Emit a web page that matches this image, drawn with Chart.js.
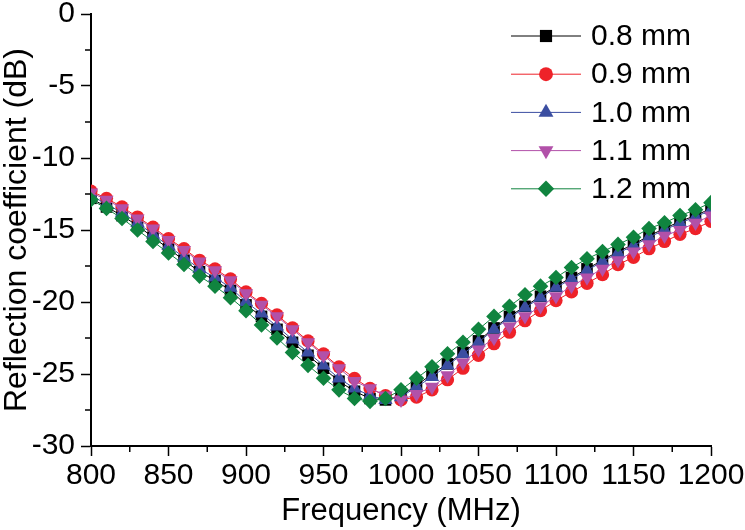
<!DOCTYPE html>
<html>
<head>
<meta charset="utf-8">
<script src="https://cdn.jsdelivr.net/npm/chart.js@4.4.1/dist/chart.umd.min.js"></script>
<style>
  html, body { margin: 0; padding: 0; background: #ffffff; }
  #wrap { width: 745px; height: 530px; }
</style>
</head>
<body>
<div id="wrap"><canvas id="c" width="745" height="530"></canvas></div>
<script>
// ---- data ----
const frequencies = [800, 810, 820, 830, 840, 850, 860, 870, 880, 890, 900, 910, 920, 930, 940, 950, 960, 970, 980, 990, 1000, 1010, 1020, 1030, 1040, 1050, 1060, 1070, 1080, 1090, 1100, 1110, 1120, 1130, 1140, 1150, 1160, 1170, 1180, 1190, 1200];

const seriesNames = ['0.8 mm', '0.9 mm', '1.0 mm', '1.1 mm', '1.2 mm'];

const s08 = [-12.8, -13.4, -14.0, -14.7, -15.5, -16.3, -17.1, -17.9, -18.5, -19.2, -20.2, -21.0, -21.9, -22.8, -23.7, -24.6, -25.5, -26.2, -26.7, -26.8, -26.5, -25.8, -25.0, -24.3, -23.5, -22.7, -21.8, -21.0, -20.3, -19.6, -18.9, -18.3, -17.7, -17.1, -16.5, -16.0, -15.4, -14.9, -14.4, -14.0, -13.5];
const s09 = [-12.3, -12.8, -13.4, -14.1, -14.8, -15.6, -16.3, -17.1, -17.7, -18.4, -19.3, -20.1, -20.9, -21.8, -22.7, -23.6, -24.5, -25.3, -26.0, -26.5, -26.8, -26.6, -26.1, -25.4, -24.6, -23.7, -22.9, -22.1, -21.3, -20.6, -19.9, -19.3, -18.7, -18.1, -17.4, -16.9, -16.3, -15.8, -15.3, -14.9, -14.4];
const s10 = [-12.6, -13.2, -13.8, -14.5, -15.3, -16.1, -16.9, -17.7, -18.3, -19.0, -20.0, -20.8, -21.7, -22.6, -23.5, -24.4, -25.3, -26.0, -26.5, -26.8, -26.6, -25.9, -25.2, -24.4, -23.6, -22.8, -21.9, -21.1, -20.4, -19.7, -19.0, -18.4, -17.8, -17.2, -16.6, -16.1, -15.5, -15.0, -14.5, -14.1, -13.6];
const s11 = [-12.4, -12.9, -13.5, -14.2, -14.9, -15.7, -16.4, -17.2, -17.8, -18.5, -19.4, -20.2, -21.0, -21.9, -22.8, -23.7, -24.6, -25.5, -26.0, -26.5, -26.8, -26.4, -25.9, -25.1, -24.2, -23.3, -22.5, -21.7, -21.0, -20.3, -19.6, -18.9, -18.3, -17.7, -17.1, -16.5, -16.0, -15.4, -15.0, -14.5, -14.0];
const s12 = [-12.9, -13.5, -14.2, -15.0, -15.8, -16.6, -17.4, -18.2, -18.9, -19.7, -20.6, -21.6, -22.5, -23.5, -24.4, -25.3, -26.1, -26.7, -26.9, -26.7, -26.1, -25.3, -24.5, -23.6, -22.8, -21.9, -21.0, -20.3, -19.5, -18.9, -18.3, -17.6, -17.0, -16.5, -16.0, -15.5, -14.9, -14.5, -14.0, -13.6, -13.1];

const xTickValues = [800, 850, 900, 950, 1000, 1050, 1100, 1150, 1200];
const xMinorTicks = [825, 875, 925, 975, 1025, 1075, 1125, 1175];
const yTickValues = [0, -5, -10, -15, -20, -25, -30];
const yMinorTicks = [-2.5, -7.5, -12.5, -17.5, -22.5, -27.5];

const xTitle = 'Frequency (MHz)';
const yTitle = 'Reflection coefficient (dB)';

// ---- styles ----
const FONT = "'Liberation Sans', Arial, sans-serif";
const styles = [
  { color: '#000000', pointStyle: 'rect',     rotation: 0,   radius: 8.2 },
  { color: '#ee2229', pointStyle: 'circle',   rotation: 0,   radius: 6.6 },
  { color: '#3b4ea1', pointStyle: 'triangle', rotation: 0,   radius: 8.2 },
  { color: '#b251a9', pointStyle: 'triangle', rotation: 180, radius: 8.2 },
  { color: '#10843f', pointStyle: 'rectRot',  rotation: 0,   radius: 7.8 }
];
const seriesValues = [s08, s09, s10, s11, s12];
// draw order: black at the bottom, green on top
const drawOrder = [5, 4, 3, 2, 1];

const datasets = seriesValues.map((vals, i) => ({
  label: seriesNames[i],
  data: frequencies.map((f, k) => ({ x: f, y: vals[k] })),
  borderColor: styles[i].color,
  backgroundColor: styles[i].color,
  borderWidth: 1,
  pointStyle: styles[i].pointStyle,
  rotation: styles[i].rotation,
  pointRadius: styles[i].radius,
  pointHoverRadius: styles[i].radius,
  pointBorderWidth: 0,
  pointBackgroundColor: styles[i].color,
  pointBorderColor: styles[i].color,
  tension: 0,
  order: drawOrder[i]
}));

const minorTicksPlugin = {
  id: 'minorTicks',
  afterDraw(chart) {
    const ctx = chart.ctx;
    const xs = chart.scales.x, ys = chart.scales.y;
    ctx.save();
    ctx.strokeStyle = '#000';
    ctx.lineWidth = 1.5;
    ctx.beginPath();
    xMinorTicks.forEach(v => {
      const px = xs.getPixelForValue(v);
      ctx.moveTo(px, ys.bottom);
      ctx.lineTo(px, ys.bottom + 6);
    });
    yMinorTicks.forEach(v => {
      const py = ys.getPixelForValue(v);
      ctx.moveTo(xs.left, py);
      ctx.lineTo(xs.left - 6, py);
    });
    ctx.stroke();
    ctx.restore();
  }
};

const legendPlugin = {
  id: 'lineLegend',
  afterDraw(chart) {
    const ctx = chart.ctx;
    const x0 = 511, x1 = 581, xm = 546, xText = 591;
    const yStart = 36, gap = 38.2;
    ctx.save();
    chart.data.datasets.forEach((ds, i) => {
      const y = yStart + i * gap;
      ctx.strokeStyle = ds.borderColor;
      ctx.lineWidth = 1;
      ctx.beginPath();
      ctx.moveTo(x0, y);
      ctx.lineTo(x1, y);
      ctx.stroke();
      ctx.fillStyle = ds.borderColor;
      ctx.strokeStyle = ds.borderColor;
      Chart.helpers.drawPoint(ctx, {
        pointStyle: ds.pointStyle,
        rotation: ds.rotation,
        radius: ds.pointRadius * 1.05,
        borderWidth: 0
      }, xm, y);
      ctx.fillStyle = '#000';
      ctx.font = '30px ' + FONT;
      ctx.textBaseline = 'middle';
      ctx.textAlign = 'left';
      ctx.fillText(ds.label, xText, y + 1);
    });
    ctx.restore();
  }
};

new Chart(document.getElementById('c'), {
  type: 'line',
  data: { datasets },
  options: {
    responsive: false,
    animation: false,
    devicePixelRatio: 1,
    layout: { padding: { left: 0, top: 14, right: 34, bottom: 0 } },
    plugins: {
      legend: { display: false },
      tooltip: { enabled: false }
    },
    scales: {
      x: {
        type: 'linear',
        min: 800, max: 1200,
        afterBuildTicks: (scale) => { scale.ticks = xTickValues.map(v => ({ value: v })); },
        afterFit: (scale) => { scale.height = 84; scale.paddingLeft = 0; scale.paddingRight = 0; },
        ticks: {
          color: '#000',
          font: { family: FONT, size: 30, lineHeight: 1 },
          padding: 5,
          maxRotation: 0,
          autoSkip: false,
          callback: (v) => String(v)
        },
        grid: { drawOnChartArea: false, drawTicks: true, tickLength: 10, tickColor: '#000', tickWidth: 1.5 },
        border: { display: true, color: '#000', width: 2 },
        title: {
          display: true, text: xTitle, color: '#000',
          font: { family: FONT, size: 31, lineHeight: 1.2 },
          padding: { top: 0, bottom: 0 }
        }
      },
      y: {
        type: 'linear',
        min: -30, max: 0,
        afterBuildTicks: (scale) => { scale.ticks = yTickValues.map(v => ({ value: v })); },
        afterFit: (scale) => { scale.width = 91; scale.paddingTop = 0; scale.paddingBottom = 0; },
        ticks: {
          color: '#000',
          font: { family: FONT, size: 30, lineHeight: 0.9 },
          padding: 6,
          autoSkip: false,
          callback: (v) => String(v)
        },
        grid: { drawOnChartArea: false, drawTicks: true, tickLength: 10, tickColor: '#000', tickWidth: 1.5 },
        border: { display: true, color: '#000', width: 2 },
        title: {
          display: true, text: yTitle, color: '#000',
          font: { family: FONT, size: 32, lineHeight: 1 },
          padding: { top: 1, bottom: 1 }
        }
      }
    }
  },
  plugins: [minorTicksPlugin, legendPlugin]
});
</script>
</body>
</html>
